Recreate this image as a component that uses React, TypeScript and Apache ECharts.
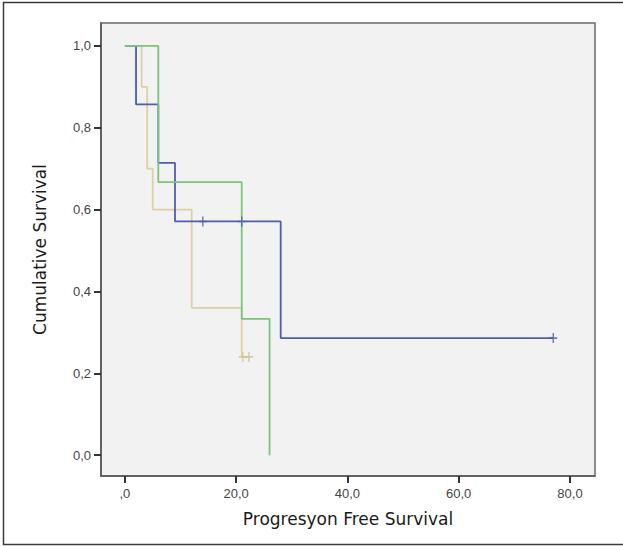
import React, { useEffect, useRef } from "react";
import * as echarts from "echarts";

// Kaplan-Meier step data (time, cumulative survival)
const blueTimes = [0, 2, 6, 9, 28, 77];
const blueSurv = [1, 0.857, 0.714, 0.571, 0.286, 0.286];
const blueCensorTimes = [14, 21, 77];
const blueCensorSurv = [0.571, 0.571, 0.286];

const greenTimes = [0, 6, 21, 26];
const greenSurv = [1, 0.667, 0.333, 0];

const tanTimes = [0, 3, 4, 5, 12, 21, 22.3];
const tanSurv = [1, 0.9, 0.7, 0.6, 0.36, 0.24, 0.24];
const tanCensorTimes = [21.2, 22.3];
const tanCensorSurv = [0.24, 0.24];

const xTicks = [0, 20, 40, 60, 80];
const yTicks = [0, 0.2, 0.4, 0.6, 0.8, 1];

const xTitle = "Progresyon Free Survival";
const yTitle = "Cumulative Survival";

const BLUE = "#4f5ea8";
const GREEN = "#7cc47c";
const TAN = "#ddd0a2";

const plus = "path://M-5,-0.8 H5 V0.8 H-5 Z M-0.9,-5 H0.9 V5 H-0.9 Z";

const zip = (a: number[], b: number[]) => a.map((v, i) => [v, b[i]]);

const fmtX = (v: number) => (v === 0 ? ",0" : v.toFixed(1).replace(".", ","));
const fmtY = (v: number) => v.toFixed(1).replace(".", ",");

export default function App() {
  const ref = useRef<HTMLDivElement>(null);
  useEffect(() => {
    if (!ref.current) return;
    const chart = echarts.init(ref.current, null, { renderer: "svg" });
    const lineBase = {
      type: "line",
      step: "end",
      showSymbol: false,
      symbol: "none",
      silent: true,
    };
    chart.setOption({
      animation: false,
      backgroundColor: "#ffffff",
      graphic: [
        {
          type: "rect",
          shape: { x: 3.5, y: 2.5, width: 640, height: 542 },
          style: { fill: "none", stroke: "#3a3a3a", lineWidth: 1.5 },
          silent: true,
        },
      ],
      grid: {
        left: 101,
        top: 23,
        right: 28,
        bottom: 71,
        show: true,
        backgroundColor: "#f2f2f2",
        borderColor: "#6b6b6b",
        borderWidth: 1.5,
      },
      xAxis: {
        type: "value",
        min: -4.3,
        max: 84.5,
        name: xTitle,
        nameLocation: "middle",
        nameGap: 34,
        nameTextStyle: { fontFamily: "DejaVu Sans", fontSize: 17, color: "#1a1a1a" },
        splitLine: { show: false },
        axisLine: { show: true, onZero: false, lineStyle: { color: "#555", width: 1.5 } },
        axisTick: {
          show: true,
          customValues: xTicks,
          length: 7,
          lineStyle: { color: "#333", width: 2 },
        },
        axisLabel: {
          customValues: xTicks,
          formatter: (v: number) => fmtX(v),
          fontFamily: "Liberation Sans",
          fontSize: 13,
          color: "#444",
          margin: 11,
        },
      },
      yAxis: {
        type: "value",
        min: -0.051,
        max: 1.056,
        name: yTitle,
        nameLocation: "middle",
        nameGap: 53,
        nameTextStyle: { fontFamily: "DejaVu Sans", fontSize: 17, color: "#1a1a1a" },
        splitLine: { show: false },
        axisLine: { show: true, onZero: false, lineStyle: { color: "#555", width: 1.5 } },
        axisTick: {
          show: true,
          customValues: yTicks,
          length: 7,
          lineStyle: { color: "#333", width: 2 },
        },
        axisLabel: {
          customValues: yTicks,
          formatter: (v: number) => fmtY(v),
          fontFamily: "Liberation Sans",
          fontSize: 13,
          color: "#444",
          margin: 10,
        },
      },
      series: [
        {
          ...lineBase,
          name: "tan",
          data: zip(tanTimes, tanSurv),
          lineStyle: { color: TAN, width: 1.8 },
          z: 2,
        },
        {
          ...lineBase,
          name: "blue",
          data: zip(blueTimes, blueSurv),
          lineStyle: { color: BLUE, width: 1.8 },
          z: 3,
        },
        {
          ...lineBase,
          name: "green",
          data: zip(greenTimes, greenSurv),
          lineStyle: { color: GREEN, width: 1.8 },
          z: 4,
        },
        {
          type: "scatter",
          name: "blueCensor",
          data: zip(blueCensorTimes, blueCensorSurv),
          symbol: plus,
          symbolSize: [8, 10],
          itemStyle: { color: BLUE },
          silent: true,
          z: 5,
        },
        {
          type: "scatter",
          name: "tanCensor",
          data: zip(tanCensorTimes, tanCensorSurv),
          symbol: plus,
          symbolSize: [8, 10],
          itemStyle: { color: "#cfc08c" },
          silent: true,
          z: 5,
        },
      ],
    });
    return () => chart.dispose();
  }, []);
  return (
    <div
      ref={ref}
      style={{ position: "fixed", left: 0, top: 0, width: 623, height: 547 }}
    />
  );
}
